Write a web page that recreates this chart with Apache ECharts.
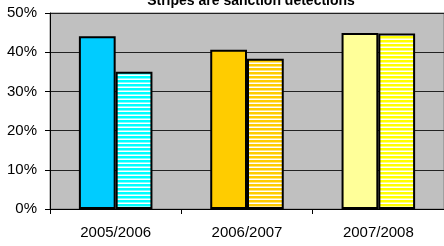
<!DOCTYPE html>
<html>
<head>
<meta charset="utf-8">
<script src="https://cdn.jsdelivr.net/npm/echarts@6/dist/echarts.min.js"></script>
<style>
  html, body { margin: 0; padding: 0; background: #fff; }
  #chart { width: 444px; height: 246px; }
</style>
</head>
<body>
<div id="chart"></div>
<script>
var categories = ['2005/2006', '2006/2007', '2007/2008'];
var solidValues = [44.1, 40.6, 44.9];
var stripedValues = [35.0, 38.3, 44.8];
var solidColors = ['#00CCFF', '#FFCC00', '#FFFF99'];
var stripeColors = ['#00FFFF', '#FFCC00', '#FFFF00'];

// horizontal stripes: colour band + white band
function stripes(color) {
  var c = document.createElement('canvas');
  c.width = 4;
  c.height = 4;
  var ctx = c.getContext('2d');
  ctx.fillStyle = '#ffffff';
  ctx.fillRect(0, 0, 4, 4);
  ctx.fillStyle = color;
  ctx.fillRect(0, 0, 4, 2.5);
  return { image: c, repeat: 'repeat' };
}

var chart = echarts.init(document.getElementById('chart'));
chart.setOption({
  animation: false,
  textStyle: { fontFamily: 'Liberation Sans, Arial, sans-serif' },
  title: {
    text: 'Stripes are sanction detections',
    left: 246,
    textAlign: 'center',
    top: -11,
    textStyle: { fontSize: 14, fontWeight: 'bold', color: '#000' }
  },
  grid: {
    left: 50,
    right: -2,
    top: 13,
    bottom: 37,
    show: true,
    backgroundColor: '#C0C0C0',
    borderColor: '#808080',
    borderWidth: 1
  },
  xAxis: {
    type: 'category',
    data: categories,
    axisLine: { lineStyle: { color: '#000', width: 1 } },
    axisTick: { show: true, length: 5, lineStyle: { color: '#000' } },
    axisLabel: { color: '#000', fontSize: 15, margin: 16 }
  },
  yAxis: {
    type: 'value',
    min: 0,
    max: 50,
    interval: 10,
    axisLine: { show: true, lineStyle: { color: '#000', width: 1 } },
    axisTick: { show: true, length: 5, lineStyle: { color: '#000' } },
    axisLabel: { color: '#000', fontSize: 15, margin: 13, formatter: '{value}%' },
    splitLine: { lineStyle: { color: '#222', width: 1 } }
  },
  series: [
    {
      type: 'bar',
      barGap: '0%',
      barCategoryGap: '44%',
      data: solidValues.map(function (v, i) {
        return { value: v, itemStyle: { color: solidColors[i] } };
      }),
      itemStyle: { borderColor: '#000', borderWidth: 2 }
    },
    {
      type: 'bar',
      barGap: '0%',
      barCategoryGap: '44%',
      data: stripedValues.map(function (v, i) {
        return { value: v, itemStyle: { color: stripes(stripeColors[i]) } };
      }),
      itemStyle: { borderColor: '#000', borderWidth: 2 }
    }
  ]
});
</script>
</body>
</html>
